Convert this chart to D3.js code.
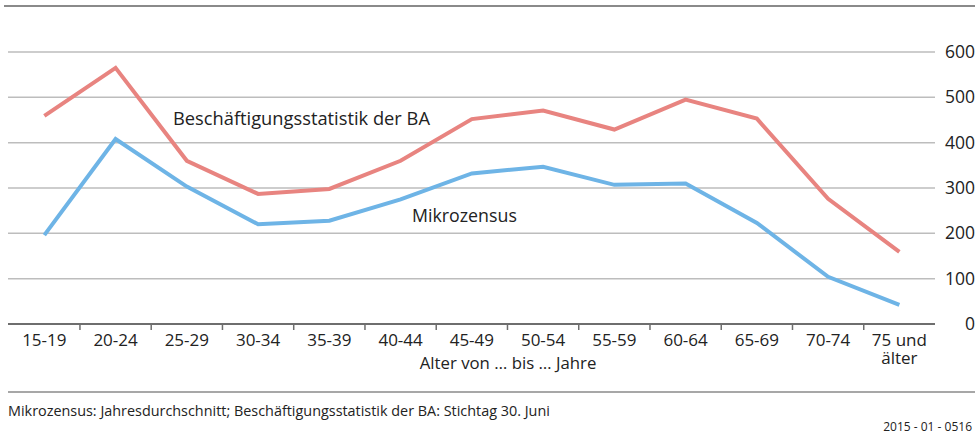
<!DOCTYPE html>
<html>
<head>
<meta charset="utf-8">
<script src="https://cdn.jsdelivr.net/npm/d3@7"></script>
<style>
  body { margin: 0; background: #fff; }
  svg { display: block; font-family: "Open Sans", sans-serif; }
</style>
</head>
<body>
<script>
// Altersgruppen und Werte (in Tausend)
const ageGroups = ["15-19", "20-24", "25-29", "30-34", "35-39", "40-44", "45-49",
                   "50-54", "55-59", "60-64", "65-69", "70-74", "75 und älter"]
const baValues = [459, 565, 360, 287, 298, 360, 452, 471, 429, 495, 453, 276, 159]
const mzValues = [196, 408, 303, 220, 228, 275, 332, 347, 307, 310, 223, 104, 42]
const yTicks = [0, 100, 200, 300, 400, 500, 600]

var w = 975
var h = 434

var svg = d3.select("body").append("svg")
    .attr("width", w)
    .attr("height", h)

var x = d3.scaleBand()
    .domain(ageGroups)
    .range([8.7, 935])

var y = d3.scaleLinear()
    .domain([0, 600])
    .range([324, 52])

// top rule
svg.append("line")
    .attr("x1", 4).attr("x2", 975)
    .attr("y1", 6).attr("y2", 6)
    .attr("stroke", "#8a8a8a")
    .attr("stroke-width", 2)

// gridlines
svg.append("g")
    .selectAll("line")
    .data(yTicks.filter(d => d > 0))
    .enter()
    .append("line")
    .attr("x1", 8).attr("x2", 935)
    .attr("y1", d => y(d)).attr("y2", d => y(d))
    .attr("stroke", "#bdbdbd")
    .attr("stroke-width", 1.5)

// y labels on the right
svg.append("g")
    .selectAll("text")
    .data(yTicks)
    .enter()
    .append("text")
    .attr("x", 975)
    .attr("y", d => y(d) + 6)
    .attr("text-anchor", "end")
    .attr("font-size", 17.5)
    .attr("fill", "#222")
    .text(d => d)

// x axis
var xAxis = d3.axisBottom(x).tickSize(0).tickFormat("")
var gx = svg.append("g")
    .attr("transform", "translate(0,324)")
    .call(xAxis)
gx.select(".domain").attr("stroke", "#6e6e6e").attr("stroke-width", 2)
    .attr("d", "M8,0H935")

// tick marks at band boundaries
gx.append("g")
    .selectAll("line")
    .data(ageGroups.slice(1))
    .enter()
    .append("line")
    .attr("x1", d => x(d)).attr("x2", d => x(d))
    .attr("y1", 0).attr("y2", 6)
    .attr("stroke", "#6e6e6e")
    .attr("stroke-width", 1.5)

// category labels
var lab = svg.append("g")
    .selectAll("text")
    .data(ageGroups)
    .enter()
    .append("text")
    .attr("x", d => x(d) + x.bandwidth() / 2)
    .attr("y", 346)
    .attr("text-anchor", "middle")
    .attr("font-size", 17)
    .attr("fill", "#222")
lab.each(function(d) {
    var parts = d === "75 und älter" ? ["75 und", "älter"] : [d]
    d3.select(this).selectAll("tspan")
        .data(parts)
        .enter()
        .append("tspan")
        .attr("x", x(d) + x.bandwidth() / 2)
        .attr("dy", (p, i) => i === 0 ? 0 : 18)
        .text(p => p)
})

svg.append("text")
    .attr("x", 508)
    .attr("y", 369)
    .attr("text-anchor", "middle")
    .attr("font-size", 16.8)
    .attr("fill", "#222")
    .text("Alter von … bis … Jahre")

// lines
var line = d3.line()
    .x((d, i) => x(ageGroups[i]) + x.bandwidth() / 2)
    .y(d => y(d))

svg.append("path")
    .datum(baValues)
    .attr("d", line)
    .attr("fill", "none")
    .attr("stroke", "#e88480")
    .attr("stroke-width", 4)

svg.append("path")
    .datum(mzValues)
    .attr("d", line)
    .attr("fill", "none")
    .attr("stroke", "#6eb4e6")
    .attr("stroke-width", 4)

// series labels
svg.append("text")
    .attr("x", 173)
    .attr("y", 125)
    .attr("font-size", 18.3)
    .attr("fill", "#222")
    .text("Beschäftigungsstatistik der BA")

svg.append("text")
    .attr("x", 412)
    .attr("y", 222)
    .attr("font-size", 17.8)
    .attr("fill", "#222")
    .text("Mikrozensus")

// bottom rule and notes
svg.append("line")
    .attr("x1", 8).attr("x2", 975)
    .attr("y1", 392).attr("y2", 392)
    .attr("stroke", "#8a8a8a")
    .attr("stroke-width", 1.5)

svg.append("text")
    .attr("x", 8)
    .attr("y", 416)
    .attr("font-size", 14.4)
    .attr("fill", "#222")
    .text("Mikrozensus: Jahresdurchschnitt; Beschäftigungsstatistik der BA: Stichtag 30. Juni")

svg.append("text")
    .attr("x", 972)
    .attr("y", 431)
    .attr("text-anchor", "end")
    .attr("font-size", 12)
    .attr("fill", "#222")
    .text("2015 - 01 - 0516")
</script>
</body>
</html>
